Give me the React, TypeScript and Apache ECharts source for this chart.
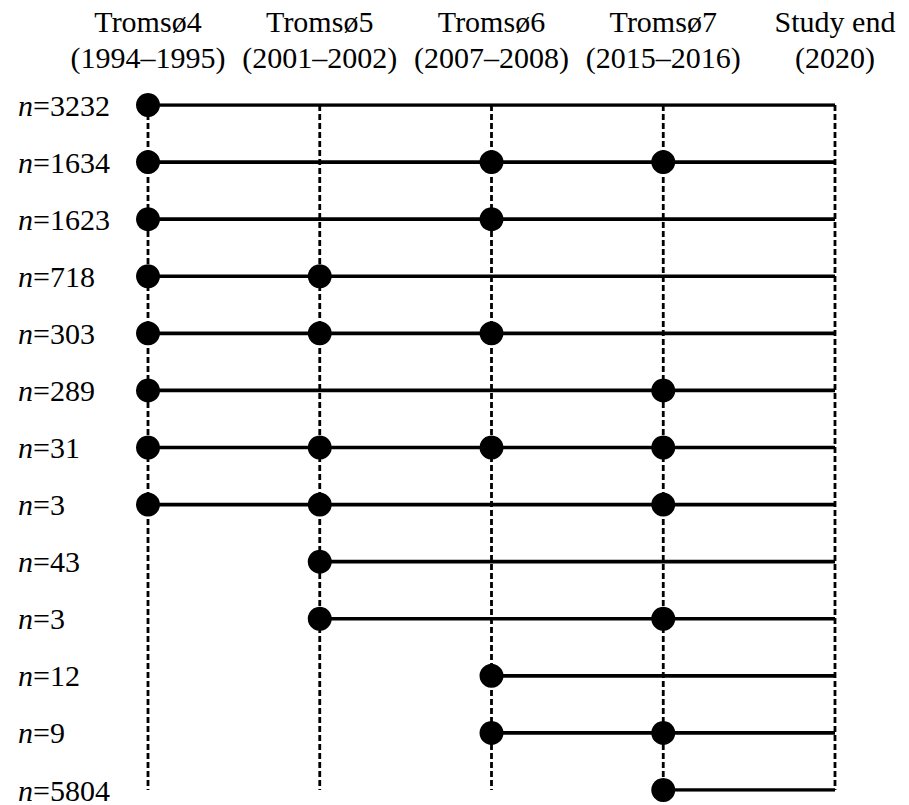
import React, { useEffect, useRef } from "react";
import * as echarts from "echarts";

const waves = ["Tromsø4", "Tromsø5", "Tromsø6", "Tromsø7", "Study end"];
const periods = ["(1994–1995)", "(2001–2002)", "(2007–2008)", "(2015–2016)", "(2020)"];
const groupSizes = [3232, 1634, 1623, 718, 303, 289, 31, 3, 43, 3, 12, 9, 5804];
const attendance: number[][] = [
  [0],
  [0, 2, 3],
  [0, 2],
  [0, 1],
  [0, 1, 2],
  [0, 3],
  [0, 1, 2, 3],
  [0, 1, 3],
  [1],
  [1, 3],
  [2],
  [2, 3],
  [3],
];
const studyEndIndex = 4;

const FONT = "Liberation Serif";

export default function App() {
  const ref = useRef<HTMLDivElement>(null);
  useEffect(() => {
    if (!ref.current) return;
    const chart = echarts.init(ref.current, undefined, { renderer: "svg" });
    const lastRow = groupSizes.length - 1;

    const series: any[] = [];
    waves.forEach((_, c) => {
      series.push({
        type: "line",
        data: [
          [c, 0],
          [c, lastRow],
        ],
        symbol: "none",
        silent: true,
        z: 1,
        lineStyle: { color: "#000", width: 2.8, type: [6, 3] },
      });
    });
    attendance.forEach((waveList, r) => {
      series.push({
        type: "line",
        data: [
          [Math.min(...waveList), r],
          [studyEndIndex, r],
        ],
        symbol: "none",
        silent: true,
        z: 2,
        lineStyle: { color: "#000", width: 3.6, type: "solid" },
      });
    });
    const dots: number[][] = [];
    attendance.forEach((waveList, r) => waveList.forEach((c) => dots.push([c, r])));
    series.push({
      type: "scatter",
      data: dots,
      symbol: "circle",
      symbolSize: 24,
      z: 3,
      itemStyle: { color: "#000", opacity: 1 },
    });

    const rowAxis = (margin: number, fontStyle: string, formatter: (v: number) => string) => ({
      type: "value",
      min: 0,
      max: lastRow,
      interval: 1,
      inverse: true,
      position: "left",
      offset: 0,
      axisLine: { show: false },
      axisTick: { show: false },
      splitLine: { show: false },
      axisLabel: {
        show: true,
        showMinLabel: true,
        showMaxLabel: true,
        align: "left",
        margin,
        color: "#000",
        fontFamily: FONT,
        fontStyle,
        fontSize: 30,
        formatter,
      },
    });

    chart.setOption({
      animation: false,
      grid: { left: 148, right: 74, top: 105, bottom: 13, containLabel: false },
      xAxis: {
        type: "value",
        min: 0,
        max: studyEndIndex,
        interval: 1,
        position: "top",
        axisLine: { show: false },
        axisTick: { show: false },
        splitLine: { show: false },
        axisLabel: {
          show: true,
          showMinLabel: true,
          showMaxLabel: true,
          margin: 30,
          color: "#000",
          fontFamily: FONT,
          fontSize: 30,
          lineHeight: 36,
          formatter: (v: number) => `${waves[v]}\n${periods[v]}`,
        },
      },
      yAxis: [
        rowAxis(130, "italic", () => "n"),
        rowAxis(115, "normal", (v: number) => `=${groupSizes[v]}`),
      ],
      series,
    });
    return () => chart.dispose();
  }, []);
  return (
    <div
      ref={ref}
      style={{ position: "absolute", left: 0, top: 0, width: 909, height: 805, background: "#fff" }}
    />
  );
}
